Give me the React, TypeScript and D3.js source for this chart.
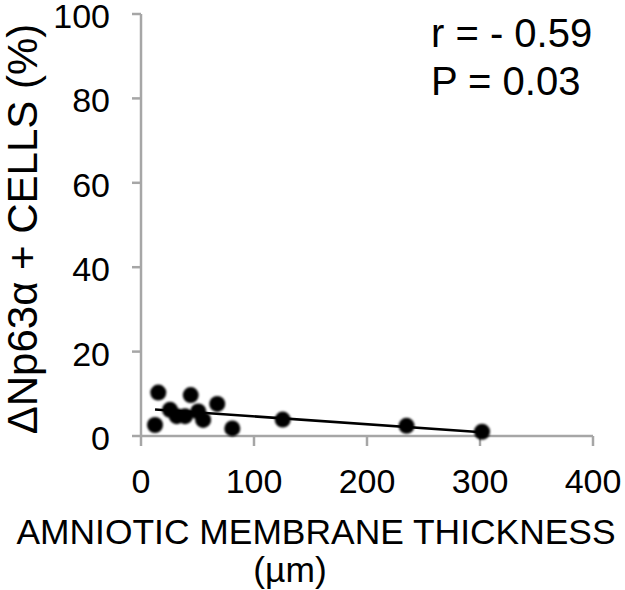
import React from "react";
import * as d3 from "d3";

const thickness = [15.3, 12.4, 25.7, 31.6, 39, 44, 50.7, 55, 67.5, 80.8, 125.4, 235, 301.8];
const cellsPct = [10.3, 2.6, 6.2, 4.7, 4.7, 9.7, 5.8, 3.8, 7.6, 1.8, 3.9, 2.4, 1.0];
const xTicks = [0, 100, 200, 300, 400];
const yTicks = [0, 20, 40, 60, 80, 100];
const statLines = ["r = - 0.59", "P = 0.03"];
const xTitle = "AMNIOTIC MEMBRANE THICKNESS";
const xUnit = "(µm)";
const yTitle = "ΔNp63α + CELLS (%)";

export default function App() {
  const W = 625, H = 590;
  const x = d3.scaleLinear().domain([0, 400]).range([141, 593]);
  const y = d3.scaleLinear().domain([0, 100]).range([436, 14]);
  const pts = thickness.map((t, i) => ({ t, v: cellsPct[i] }));
  const mx = d3.mean(thickness) as number;
  const my = d3.mean(cellsPct) as number;
  const sxy = d3.sum(pts, (p) => (p.t - mx) * (p.v - my));
  const sxx = d3.sum(pts, (p) => (p.t - mx) ** 2);
  const slope = sxy / sxx;
  const icpt = my - slope * mx;
  const [x0, x1] = d3.extent(thickness) as [number, number];
  const line = d3.line<number>().x((d) => x(d)).y((d) => y(icpt + slope * d));
  const font = "'Liberation Sans', Arial, sans-serif";
  const axisColor = "#a6a6a6";
  return (
    <svg width={W} height={H} style={{ position: "absolute", left: 0, top: 0, background: "#fff" }} fontFamily={font}>
      <defs>
        <filter id="blur" x="-50%" y="-50%" width="200%" height="200%">
          <feGaussianBlur stdDeviation="0.8" />
        </filter>
      </defs>
      {/* axes */}
      <line x1={x(0)} x2={x(400)} y1={y(0)} y2={y(0)} stroke={axisColor} strokeWidth={2.5} />
      <line x1={x(0)} x2={x(0)} y1={y(0)} y2={y(100)} stroke={axisColor} strokeWidth={2.5} />
      {yTicks.map((t) => (
        <g key={"y" + t}>
          <line x1={x(0) - 9} x2={x(0)} y1={y(t)} y2={y(t)} stroke={axisColor} strokeWidth={2.5} />
          <text x={x(0) - 31} y={y(t)} dy="0.41em" textAnchor="end" fontSize={34} fill="#000">{t}</text>
        </g>
      ))}
      {xTicks.map((t) => (
        <g key={"x" + t}>
          <line x1={x(t)} x2={x(t)} y1={y(0)} y2={y(0) + 10} stroke={axisColor} strokeWidth={2.5} />
          <text x={x(t)} y={493} textAnchor="middle" fontSize={34} fill="#000">{t}</text>
        </g>
      ))}
      {/* regression line */}
      <path d={line([x0, x1]) as string} stroke="#000" strokeWidth={2.5} fill="none" />
      {/* points */}
      <g filter="url(#blur)">
        {pts.map((p, i) => (
          <circle key={i} cx={x(p.t)} cy={y(p.v)} r={8} fill="#000" />
        ))}
      </g>
      {/* stats */}
      {statLines.map((s, i) => (
        <text key={s} x={431} y={47 + i * 48} fontSize={40} fill="#000">{s}</text>
      ))}
      {/* titles */}
      <text x={316} y={544} textAnchor="middle" fontSize={35.4} fill="#000">{xTitle}</text>
      <text x={290} y={582} textAnchor="middle" fontSize={35.4} fill="#000">{xUnit}</text>
      <text transform={`translate(37,229) rotate(-90)`} textAnchor="middle" fontSize={42} fill="#000">{yTitle}</text>
    </svg>
  );
}
